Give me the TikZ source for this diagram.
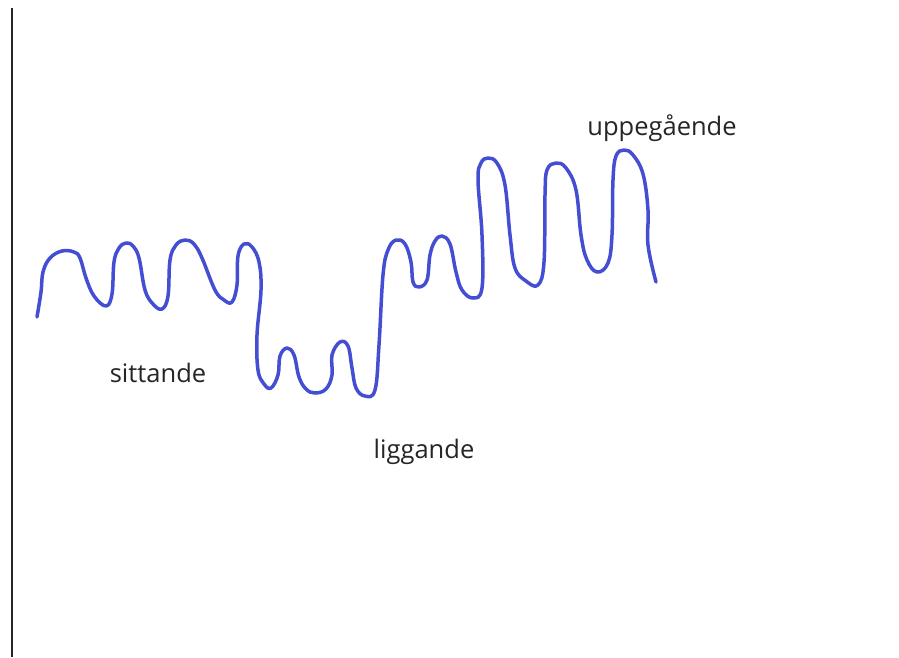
\documentclass[tikz,border=0pt]{standalone}
\usepackage{fontspec}
\setmainfont{Open Sans}
\definecolor{penblue}{RGB}{68,78,210}
\begin{document}
\begin{tikzpicture}[x=1pt,y=-1pt,
  label/.style={font=\fontsize{25.5}{30}\selectfont, text=black!85, anchor=base, inner sep=0pt},
  pen/.style={penblue, line width=3.5pt, line cap=round, line join=round}]
\useasboundingbox (0,0) rectangle (899,657);
\fill[white] (0,0) rectangle (899,657);
% axis on the left
\draw[line width=1.8pt, black!85] (12,8) -- (12,657);
% hand drawn wave
\draw[pen] plot[smooth, tension=0.65] coordinates {
 (37,317) (41,292) (43,272) (50,258) (62,251) (74,252) (80,258) (86,278) (94,296) (106,306)
 (112,294) (114,262) (119,248) (126,243) (133,246) (139,258) (145,290) (153,304) (162,309)
 (168,296) (170,260) (176,245) (185,240) (194,244) (202,258) (215,290) (224,300) (232,302)
 (237,285) (238,256) (244,244) (252,247) (259,262) (261,290) (257,335) (258,370)
 (264,384) (271,388) (278,375) (280,356) (287,348) (294,355) (299,377) (306,389) (315,393)
 (326,389) (332,375) (332,355) (340,342) (348,346) (352,368) (356,388) (365,396) (375,390)
 (379,345) (383,275) (388,250) (396,240) (405,244) (411,262) (413,282) (419,287)
 (427,280) (430,255) (435,241) (442,236) (450,244) (456,272) (462,290) (473,298) (482,288)
 (482,235) (478,180) (481,163) (488,158) (497,163) (505,185) (510,235) (515,268) (526,281) (538,285)
 (544,262) (545,195) (547,170) (556,163) (566,168) (576,190) (581,235) (587,260) (597,272)
 (608,263) (612,235) (613,180) (616,156) (624,150) (633,155) (643,174) (648,210) (648,245) (656,282)};
% labels
\node[label] (sit) at (158,382) {sittande};
\node[label] (lig) at (424,458) {liggande};
\node[label] (upp) at (662,135) {uppegående};
\end{tikzpicture}
\end{document}
